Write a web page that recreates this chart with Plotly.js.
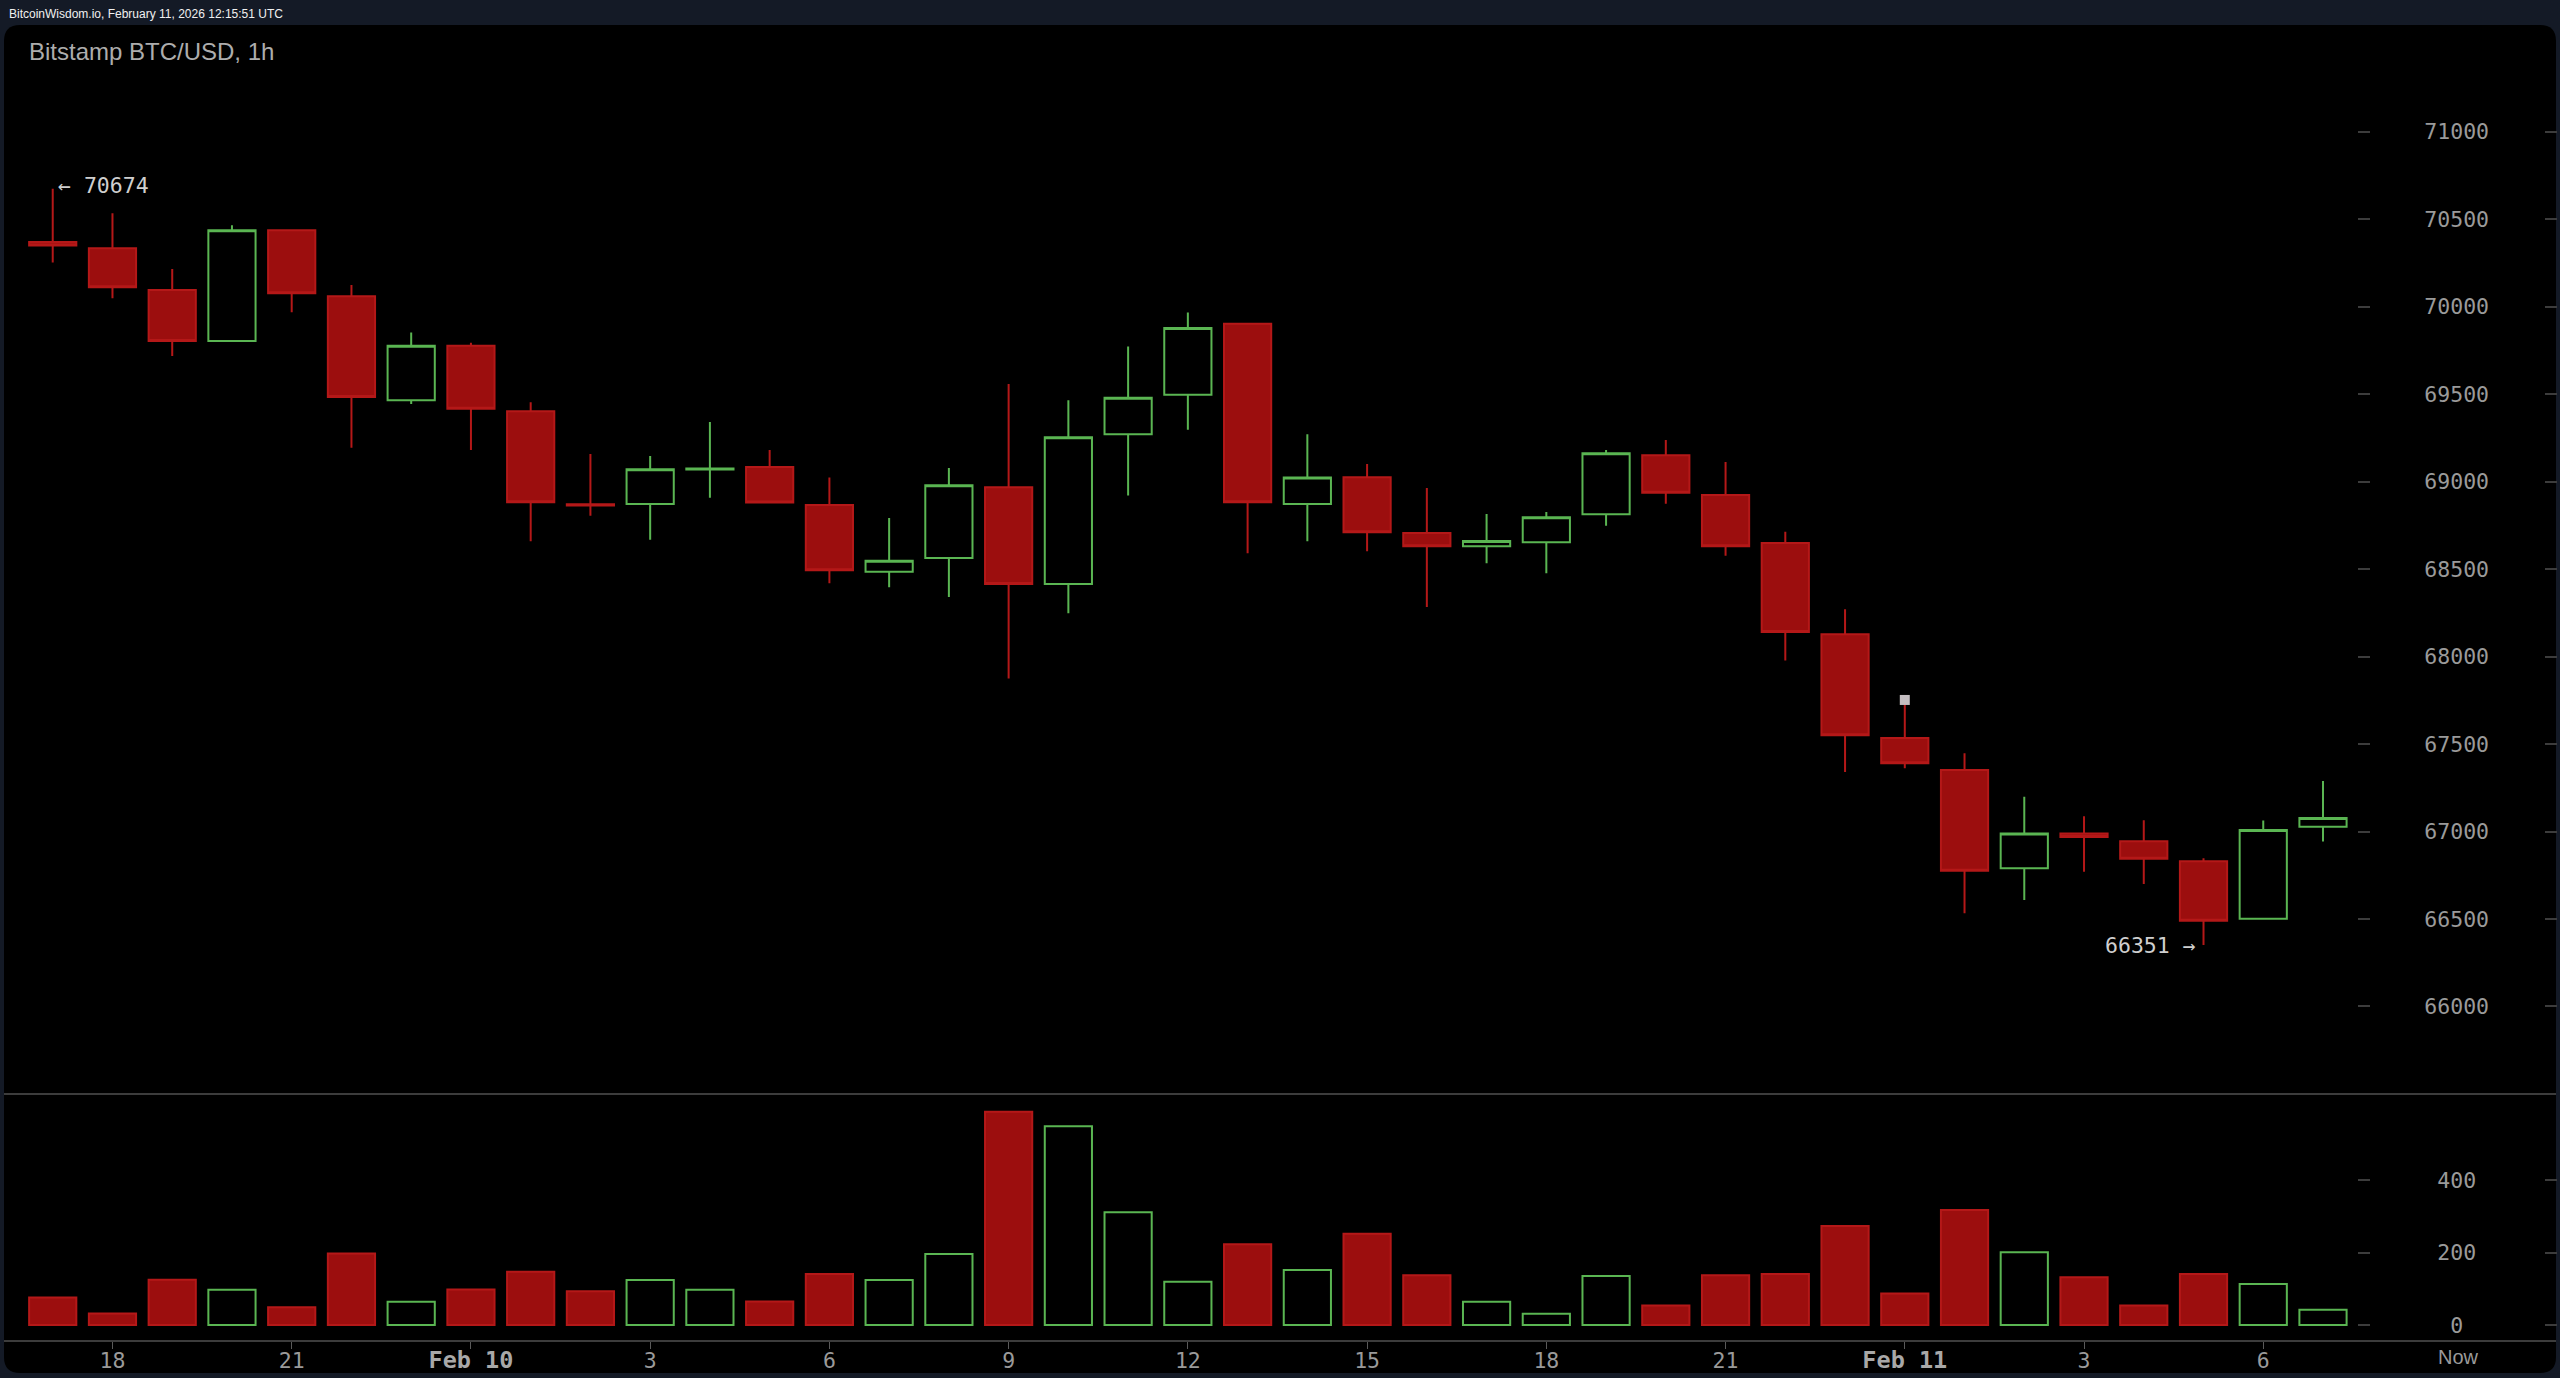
<!DOCTYPE html>
<html>
<head>
<meta charset="utf-8">
<script src="https://cdn.plot.ly/plotly-3.0.1.min.js"></script>
<style>html,body{margin:0;padding:0;background:#141a26;overflow:hidden}</style>
</head>
<body>
<div id="chart" style="width:2560px;height:1378px"></div>
<script>
const hours = [0,1,2,3,4,5,6,7,8,9,10,11,12,13,14,15,16,17,18,19,20,21,22,23,24,25,26,27,28,29,30,31,32,33,34,35,36,37,38];
const opens = [70370,70334,70096,69804,70437,70060,69465,69777,69402,68870,68872,69070,69084,68867,68485,68564,68968,68415,69271,69497,69903,68872,69025,68707,68631,68653,68813,69151,68924,68649,68128,67535,67352,66790,66988,66944,66830,66502,67027];
const highs = [70674,70534,70216,70466,70440,70124,69852,69794,69454,69158,69147,69341,69181,69023,68792,69078,69558,69465,69772,69966,69905,69271,69101,68963,68815,68827,69181,69238,69112,68714,68270,67752,67447,67199,67087,67064,66847,67063,67289];
const lows = [70252,70048,69718,69804,69968,69194,69444,69181,68659,68805,68668,68908,68880,68419,68396,68341,67874,68248,68920,69297,68591,68659,68602,68284,68533,68476,68748,68874,68577,67977,67340,67362,66533,66609,66770,66700,66351,66502,66943];
const closes = [70349,70111,69804,70437,70077,69484,69776,69417,68882,68864,69071,69075,68880,68493,68547,68979,68415,69254,69480,69878,68882,69023,68711,68631,68661,68796,69162,68937,68631,68141,67550,67390,66776,66988,66969,66845,66490,67009,67077];
const volumes = [76,32,125,97,49,197,64,98,147,93,124,97,65,141,124,196,588,548,311,119,223,152,252,137,64,31,135,54,137,141,273,87,317,201,132,54,141,113,42];

const timeTickVals = [1,4,7,10,13,16,19,22,25,28,31,34,37];
const timeTickText = ['18','21','Feb 10','3','6','9','12','15','18','21','Feb 11','3','6'];
const priceTicks = [66000,66500,67000,67500,68000,68500,69000,69500,70000,70500,71000];
const volumeTicks = [0,200,400];
const volumeTickText = ['\u00a00','200','400'];

const RED_FILL = '#9c0e0e', RED_LINE = '#b41818', GREEN_LINE = '#5ab552', BLACK = '#000000';
const MONO = '"DejaVu Sans Mono", monospace';
const SANS = '"Liberation Sans", Arial, sans-serif';
const W = 2560, H = 1378;
const px = v => v / W, py = v => 1 - v / H;
const isUp = hours.map((_, i) => closes[i] > opens[i]);

const panel = (l, t, r, b, c) =>
  `M ${px(l + c)} ${py(t)} L ${px(r - c)} ${py(t)} Q ${px(r)} ${py(t)} ${px(r)} ${py(t + c)} ` +
  `L ${px(r)} ${py(b - c)} Q ${px(r)} ${py(b)} ${px(r - c)} ${py(b)} L ${px(l + c)} ${py(b)} ` +
  `Q ${px(l)} ${py(b)} ${px(l)} ${py(b - c)} L ${px(l)} ${py(t + c)} Q ${px(l)} ${py(t)} ${px(l + c)} ${py(t)} Z`;

const traces = [
  {
    type: 'candlestick', x: hours, open: opens, high: highs, low: lows, close: closes,
    xaxis: 'x', yaxis: 'y', whiskerwidth: 0, hoverinfo: 'skip', showlegend: false,
    increasing: {line: {color: GREEN_LINE, width: 2}, fillcolor: BLACK},
    decreasing: {line: {color: RED_LINE, width: 2}, fillcolor: RED_FILL}
  },
  {
    type: 'bar', x: hours, y: volumes, xaxis: 'x', yaxis: 'y2', width: 0.79, hoverinfo: 'skip', showlegend: false,
    marker: {color: isUp.map(u => u ? BLACK : RED_FILL), line: {color: isUp.map(u => u ? GREEN_LINE : RED_LINE), width: 2}}
  },
  {
    type: 'scatter', mode: 'markers', x: [hours[31]], y: [highs[31]], xaxis: 'x', yaxis: 'y',
    marker: {symbol: 'square', size: 10, color: '#c4bec1'}, hoverinfo: 'skip', showlegend: false
  },
  {type: 'scatter', mode: 'lines', x: [hours[0]], y: [priceTicks[0]], xaxis: 'x', yaxis: 'y3', hoverinfo: 'skip', showlegend: false},
  {type: 'scatter', mode: 'lines', x: [hours[0]], y: [volumeTicks[0]], xaxis: 'x', yaxis: 'y4', hoverinfo: 'skip', showlegend: false}
];

const tickFont = {family: MONO, size: 21.5, color: '#9a9a9a'};
const priceRange = [65494, 71610], volumeRange = [-41.4, 634.5];
const priceDomain = [1 - 1095 / H, 1 - 25 / H], volumeDomain = [1 - 1340 / H, 1 - 1095 / H];

const layout = {
  width: W, height: H, autosize: false,
  margin: {l: 0, r: 0, t: 0, b: 0, pad: 0},
  paper_bgcolor: '#141a26', plot_bgcolor: 'rgba(0,0,0,0)',
  boxgap: 0.21, boxgroupgap: 0, showlegend: false, hovermode: false,
  title: {text: 'Bitstamp BTC/USD, 1h', x: 29 / W, xanchor: 'left', xref: 'paper', y: 1 - 52 / H, yanchor: 'middle', yref: 'paper',
          font: {family: SANS, size: 24, color: '#adadad'}, pad: {t: 0, b: 0, l: 0, r: 0}},
  shapes: [{type: 'path', xref: 'paper', yref: 'paper', layer: 'below', path: panel(4, 25, 2556, 1373, 16), fillcolor: '#000000', line: {width: 0}}],
  xaxis: {
    domain: [4 / W, 2556 / W], range: [-0.8156, 41.9], anchor: 'y2', side: 'bottom', rangeslider: {visible: false},
    showgrid: false, zeroline: false, showline: true, mirror: true, linecolor: '#3c3c3c', linewidth: 2,
    ticks: 'outside', ticklen: 7, tickwidth: 1, tickcolor: '#5a5a5a',
    tickmode: 'array', tickvals: timeTickVals,
    ticktext: timeTickText.map(t => t.startsWith('Feb') ? `<span style="font-size:23.5px;color:#a8a8a8"><b>${t}</b></span>` : t),
    tickfont: tickFont, ticklabelstandoff: -7, tickangle: 0
  },
  yaxis: {
    domain: priceDomain, range: priceRange, anchor: 'free', position: 2357 / W, side: 'right',
    showgrid: false, zeroline: false, showline: false,
    ticks: 'outside', ticklen: 12, tickwidth: 2, tickcolor: '#3c3c3c',
    tickmode: 'array', tickvals: priceTicks, ticktext: priceTicks.map(String), tickfont: tickFont, ticklabelstandoff: 50
  },
  yaxis2: {
    domain: volumeDomain, range: volumeRange, anchor: 'free', position: 2357 / W, side: 'right',
    showgrid: false, zeroline: false, showline: false,
    ticks: 'outside', ticklen: 12, tickwidth: 2, tickcolor: '#3c3c3c',
    tickmode: 'array', tickvals: volumeTicks, ticktext: volumeTickText, tickfont: tickFont, ticklabelstandoff: 63
  },
  yaxis3: {
    overlaying: 'y', range: priceRange, anchor: 'free', position: 2544 / W, side: 'right',
    showgrid: false, zeroline: false, showline: false, showticklabels: false,
    ticks: 'outside', ticklen: 12, tickwidth: 2, tickcolor: '#3c3c3c', tickmode: 'array', tickvals: priceTicks
  },
  yaxis4: {
    overlaying: 'y2', range: volumeRange, anchor: 'free', position: 2544 / W, side: 'right',
    showgrid: false, zeroline: false, showline: false, showticklabels: false,
    ticks: 'outside', ticklen: 12, tickwidth: 2, tickcolor: '#3c3c3c', tickmode: 'array', tickvals: volumeTicks
  },
  annotations: [
    {xref: 'paper', yref: 'paper', x: 7 / W, y: 1 - 14 / H, xanchor: 'left', yanchor: 'middle', showarrow: false,
     text: 'BitcoinWisdom.io, February 11, 2026 12:15:51 UTC', font: {family: SANS, size: 12, color: '#f0f0f0'}},
    {xref: 'x', yref: 'y', x: hours[0], y: highs[0], xanchor: 'left', yanchor: 'middle', xshift: 3, yshift: 3, showarrow: false,
     text: '← ' + highs[0], font: {family: MONO, size: 21.5, color: '#cfcfcf'}},
    {xref: 'x', yref: 'y', x: hours[36], y: lows[36], xanchor: 'right', yanchor: 'middle', xshift: -6, yshift: 0, showarrow: false,
     text: lows[36] + ' →', font: {family: MONO, size: 21.5, color: '#cfcfcf'}},
    {xref: 'x', yref: 'paper', x: 40.26, y: 1 - 1357 / H, xanchor: 'center', yanchor: 'middle', showarrow: false,
     text: 'Now', font: {family: SANS, size: 20, color: '#9a9a9a'}}
  ]
};

Plotly.newPlot('chart', traces, layout, {displayModeBar: false, staticPlot: true});
</script>
</body>
</html>
